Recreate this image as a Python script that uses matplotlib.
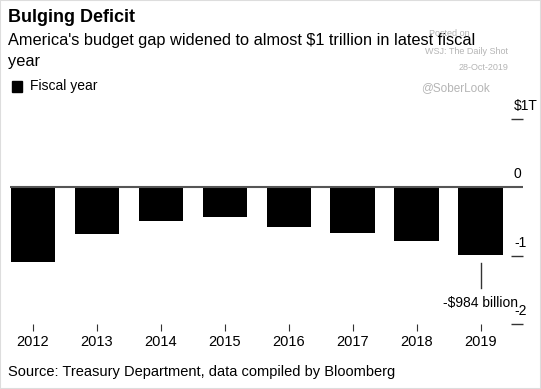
import matplotlib.pyplot as plt
from matplotlib.patches import Rectangle
import numpy as np

plt.rcParams['font.family'] = ['Liberation Sans', 'DejaVu Sans']

years = ['2012', '2013', '2014', '2015', '2016', '2017', '2018', '2019']
deficit = [-1.087, -0.680, -0.485, -0.439, -0.585, -0.665, -0.779, -0.984]  # $ trillions
ytick_vals = [1, 0, -1, -2]
ytick_labels = ['$1T', '0', '-1', '-2']

W, H = 541, 389
fig = plt.figure(figsize=(W / 100, H / 100), dpi=100)

# axes placed in pixel terms: x 10..523, y 100..324 (from top)
ax = fig.add_axes([10 / W, 1 - 324 / H, (523 - 10) / W, (324 - 100) / H])
x = np.arange(len(years))
ax.bar(x, deficit, width=0.7, color='black', zorder=2)
ax.axhline(0, color='#555555', lw=1.5, zorder=3)

ax.set_xlim(-0.36, 7.66)
ax.set_ylim(-2.0, 1.28)
for s in ax.spines.values():
    s.set_visible(False)

ax.set_xticks(x)
ax.set_xticklabels(years, fontsize=10.5)
ax.tick_params(axis='x', length=5, width=0.8, color='#333333', pad=3)

ax.set_yticks([1, -1, -2])
ax.tick_params(axis='y', left=False, right=True, labelleft=False, labelright=False,
               direction='in', length=9, width=1, color='#333333')
for v, lab in zip(ytick_vals, ytick_labels):
    ax.text(1.0 - 9 / 513, v + 0.09, lab, transform=ax.get_yaxis_transform(),
            ha='left', va='bottom', fontsize=10, color='black')

# annotation on latest year
ax.plot([7, 7], [-1.10, -1.48], color='#333333', lw=1, zorder=3)
ax.text(7, -1.69, '-$984 billion', ha='center', va='center', fontsize=10)

# titles
fig.text(8 / W, 1 - 17 / H, 'Bulging Deficit', fontsize=13, fontweight='bold',
         ha='left', va='center')
fig.text(8 / W, 1 - 51 / H,
         "America's budget gap widened to almost $1 trillion in latest fiscal\nyear",
         fontsize=11.8, ha='left', va='center', linespacing=1.5)

# legend
fig.patches.append(Rectangle((12 / W, 1 - 92 / H), 10 / W, 11 / H, color='black',
                             transform=fig.transFigure, figure=fig))
fig.text(30 / W, 1 - 86 / H, 'Fiscal year', fontsize=10, ha='left', va='center')

# watermark
wm = '#b5b5b5'
fig.text(449 / W, 1 - 33 / H, 'Posted on', fontsize=6.5, color=wm, ha='center', va='center')
fig.text(508 / W, 1 - 51 / H, 'WSJ: The Daily Shot', fontsize=6.5, color=wm, ha='right', va='center')
fig.text(508 / W, 1 - 67 / H, '28-Oct-2019', fontsize=6.5, color=wm, ha='right', va='center')
fig.text(455 / W, 1 - 88 / H, '@SoberLook', fontsize=8.5, color=wm, ha='center', va='center')

# source
fig.text(8 / W, 1 - 372 / H, 'Source: Treasury Department, data compiled by Bloomberg',
         fontsize=10.5, ha='left', va='center')

fig.patches.append(Rectangle((0, 0), 1, 1, fill=False, edgecolor='#dddddd', lw=1.5,
                             transform=fig.transFigure, figure=fig))

fig.savefig('out.png', dpi=100)
